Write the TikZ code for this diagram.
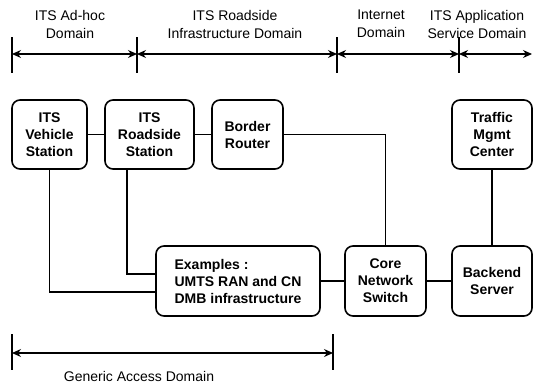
\documentclass[tikz,border=0pt]{standalone}
\usepackage{fontspec}
\setmainfont{Liberation Sans}
\usetikzlibrary{arrows.meta}

\tikzset{
  station/.style={draw, line width=1.6pt, rounded corners=8pt, align=center,
    font=\fontsize{14}{17}\selectfont\bfseries, inner sep=2pt},
  link/.style={line width=1.5pt},
  spanarrow/.style={line width=1.2pt, {Stealth[length=9pt,width=8pt]}-{Stealth[length=9pt,width=8pt]}},
  domtick/.style={line width=1.1pt},
  domlabel/.style={align=center, font=\fontsize{14}{18}\selectfont}
}

\begin{document}
\begin{tikzpicture}[x=1pt,y=-1pt]
\useasboundingbox (0,0) rectangle (533,383);

%Draw domain labels on top
\node[domlabel] (adhoc) at (70,24) {ITS Ad-hoc\\Domain};
\node[domlabel] (roadside dom) at (235,24) {ITS Roadside\\Infrastructure Domain};
\node[domlabel] (internet) at (381,24) {Internet\\Domain};
\node[domlabel] (appservice) at (477,24) {ITS Application\\Service Domain};

%Draw domain ticks and spans
\foreach \x in {12,137,337,459}
  \draw[domtick] (\x,37) -- (\x,73);
\draw[spanarrow] (12,54) -- (137,54);
\draw[spanarrow] (137,54) -- (337,54);
\draw[spanarrow] (337,54) -- (459,54);
\draw[spanarrow] (459,54) -- (532,54);

%Draw stations
\node[station, minimum width=75pt, minimum height=69pt] (vehicle) at (49.5,134.5) {ITS\\Vehicle\\Station};
\node[station, minimum width=89pt, minimum height=69pt] (roadside) at (149.5,134.5) {ITS\\Roadside\\Station};
\node[station, minimum width=71pt, minimum height=69pt] (border) at (247.5,134.5) {Border\\Router};
\node[station, minimum width=80pt, minimum height=69pt] (traffic) at (492,134.5) {Traffic\\Mgmt\\Center};
\node[station, minimum width=164pt, minimum height=70pt, align=left] (access) at (238,281) {Examples :\\UMTS RAN and CN\\DMB infrastructure};
\node[station, minimum width=81pt, minimum height=70pt] (core) at (385.5,281) {Core\\Network\\Switch};
\node[station, minimum width=80pt, minimum height=70pt] (backend) at (492,281) {Backend\\Server};

%Draw links
\draw[link] (vehicle) -- (roadside);
\draw[link] (roadside) -- (border);
\draw[link] (border.east) -| (core.north);
\draw[link] (traffic) -- (backend);
\draw[link] (access) -- (core);
\draw[link] (core) -- (backend);
\draw[link] (vehicle.south) |- ([yshift=-11pt]access.west);
\draw[link] ([xshift=-22.5pt]roadside.south) |- ([yshift=7pt]access.west);

%Draw generic access domain
\draw[domtick] (12,334) -- (12,370);
\draw[domtick] (333,334) -- (333,370);
\draw[spanarrow] (12,353) -- (333,353);
\node[domlabel] (generic) at (139,376) {Generic Access Domain};
\end{tikzpicture}
\end{document}
